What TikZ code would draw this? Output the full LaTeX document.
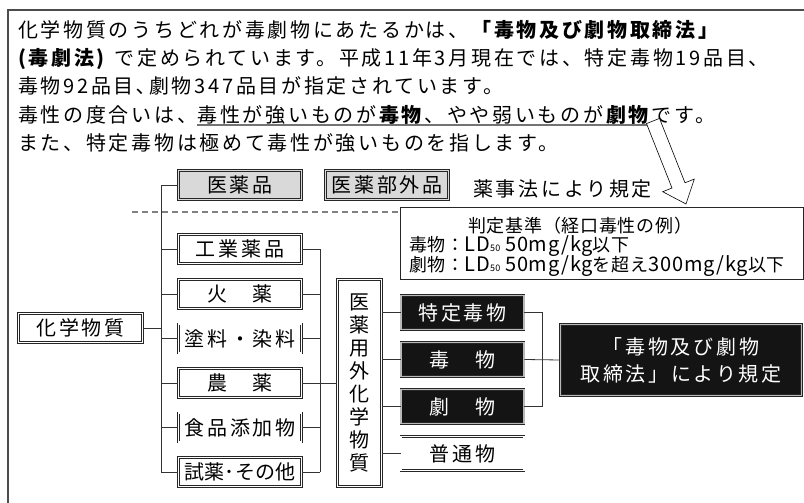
\documentclass[tikz,border=0pt]{standalone}
\usepackage{fontspec}
\setmainfont{Noto Sans CJK JP}[LetterSpace=13.5]
\newfontfamily\jpsmall{Noto Sans CJK JP}[LetterSpace=4]
\newcommand{\lat}[1]{{\fontsize{20}{20}\selectfont #1}}
\newcommand{\lsub}[1]{{\fontsize{9}{9}\selectfont #1}}
\begin{document}
\begin{tikzpicture}[x=1pt,y=-1pt,
  every node/.style={font=\fontsize{20}{23}\selectfont, inner sep=0pt},
  txt/.style={anchor=base west},
  wbox/.style={draw=black!85, line width=0.7pt, double=white, double distance=1.3pt,
    fill=white, minimum width=123pt, minimum height=29pt},
  gbox/.style={wbox, double=gray!30, fill=gray!30},
  bbox/.style={wbox, double=gray!55, fill=black!92, text=white, minimum height=34pt},
  link/.style={draw=black!80, line width=0.8pt},
  frame/.style={draw=black!70, line width=1.4pt},
  uline/.style={draw=black!55, line width=1.2pt},
  dline/.style={draw=black!50, line width=1.3pt, dash pattern=on 6pt off 4pt},
  small/.style={font=\jpsmall\fontsize{18}{20}\selectfont, anchor=base west},
  hollow/.style={draw=black, line width=0.6pt, fill=white}
]
\useasboundingbox (0,0) rectangle (804,503);
% frame
\draw[frame] (8,503) -- (8,10) -- (804,10);

% explanatory text
\node[txt] (l1) at (18,38) {化学物質のうちどれが毒劇物にあたるかは、\textbf{「毒物及び劇物取締法」}};
\node[txt] (l2) at (18,66) {\textbf{(毒劇法)} で定められています。平成11年3月現在では、特定毒物19品目、};
\node[txt] (l3) at (18,94) {毒物92品目､劇物347品目が指定されています。};
\node[txt] (l4a) at (18,122) {毒性の度合いは、};
\node[txt] (l4b) at (l4a.base east) {毒性が強いものが\textbf{毒物}、やや弱いものが\textbf{劇物}};
\node[txt] (l4c) at (l4b.base east) {です。};
\node[txt] (l5) at (18,150) {また、特定毒物は極めて毒性が強いものを指します。};
\draw[uline] ([yshift=-3pt]l4b.base west) -- ([yshift=-3pt]l4b.base east);

% top row
\node[gbox] (iyaku) at (240,185) {医薬品};
\node[gbox] (bugai) at (387,185) {医薬部外品};
\node[txt] (yakuji) at (473,196) {薬事法により規定};

% judgement box
\node[draw=black!85, line width=0.8pt, minimum width=403pt, minimum height=72pt,
      anchor=north west] (hantei) at (399.5,207) {};
\node[small] (h1) at (468,232) {判定基準（経口毒性の例）};
\node[small] (h2) at (409,251) {毒物：\lat{LD}\lsub{50} \lat{50mg/kg}以下};
\node[small] (h3) at (409,271) {劇物：\lat{LD}\lsub{50} \lat{50mg/kg}を超え\lat{300mg/kg}以下};
\coordinate (dstart) at (132,212);
\draw[dline] (dstart) -- (dstart -| hantei.west);

% left column
\node[wbox, minimum width=124pt] (kagaku) at (80.5,328) {化学物質};
\node[wbox] (kogyo) at (240,249) {工業薬品};
\node[wbox] (kayaku) at (240,294) {火　薬};
\node[wbox] (toryo) at (240,338.5) {塗料・染料};
\node[wbox] (noyaku) at (240,383) {農　薬};
\node[wbox] (shokuhin) at (240,427.5) {食品添加物};
\node[wbox, font=\addfontfeature{LetterSpace=2}\fontsize{20}{23}\selectfont] (shiyaku) at (240,472) {試薬･その他};

% vertical box
\node[wbox, minimum width=44pt, minimum height=207pt, align=center,
      font=\fontsize{20}{23}\selectfont] (vbox) at (359.5,383)
  {医\\薬\\用\\外\\化\\学\\物\\質};

% right column
\node[bbox] (tokutei) at (462.5,312.5) {特定毒物};
\node[bbox] (doku) at (462.5,359.5) {毒　物};
\node[bbox] (geki) at (462.5,406.5) {劇　物};
\node[wbox, minimum height=34pt] (futsu) at (462.5,453.5) {普通物};
\node[bbox, minimum width=241pt, minimum height=71pt, align=center,
      font=\fontsize{20}{27}\selectfont] (big) at (681,360)
  {「毒物及び劇物\\取締法」により規定};

% connectors
\coordinate (tl) at (161,0);
\coordinate (tr) at (320,0);
\coordinate (br) at (542,0);
\draw[link] (kagaku.east) -- (kagaku.east -| tl);
\draw[link] (iyaku.west -| tl) -- (shiyaku.west -| tl);
\foreach \n in {iyaku,kogyo,kayaku,toryo,noyaku,shokuhin,shiyaku}
  \draw[link] (\n.west -| tl) -- (\n.west);
\foreach \n in {kogyo,kayaku,toryo,noyaku,shokuhin,shiyaku}
  \draw[link] (\n.east) -- (\n.east -| tr);
\draw[link] (kogyo.east -| tr) -- (shiyaku.east -| tr);
\draw[link] (noyaku.east -| tr) -- (vbox.west |- noyaku.east);
\foreach \n in {tokutei,doku,geki,futsu}
  \draw[link] (\n.west -| vbox.east) -- (\n.west);
\draw[link] (tokutei.east) -- (tokutei.east -| br) -- (geki.east -| br) -- (geki.east);
\draw[link] (doku.east) -- (big.west);

% hollow arrow
\draw[hollow] (646.5,123.6) -- (659.5,118.4) -- (685,182.8) -- (694.3,179.1)
  -- (686,204) -- (662.7,191.7) -- (672,188) -- cycle;
\end{tikzpicture}
\end{document}
